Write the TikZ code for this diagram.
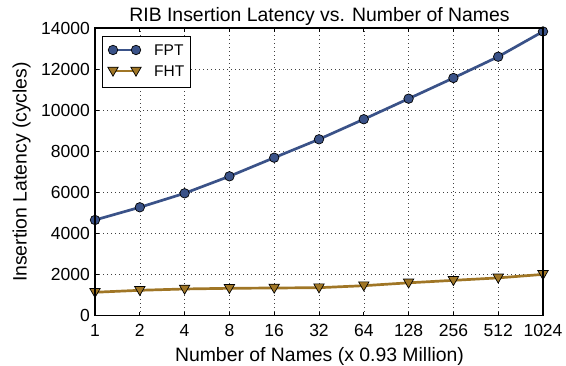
\documentclass[tikz,border=0pt]{standalone}
\usepackage{fontspec}
\setmainfont{Liberation Sans}
\usetikzlibrary{shapes.geometric}
\definecolor{fptc}{RGB}{58,82,136}
\definecolor{fhtc}{RGB}{160,118,38}
\tikzset{
  gridline/.style={black!75, line width=0.6pt, dash pattern=on 1pt off 3pt},
  tickmark/.style={black, line width=0.8pt},
  frame/.style={black, line width=1.1pt},
  fptline/.style={fptc, line width=2.7pt, line join=round},
  fhtline/.style={fhtc, line width=2.7pt, line join=round},
  fptmark/.style={circle, draw=black, fill=fptc, line width=0.7pt, minimum size=9.5pt, inner sep=0pt},
  fhtmark/.style={regular polygon, regular polygon sides=3, shape border rotate=180, draw=black, fill=fhtc, line width=0.7pt, minimum size=12pt, inner sep=0pt},
  ticklabel/.style={font=\fontsize{17.5}{20}\selectfont, inner sep=0pt},
  axlabel/.style={font=\fontsize{19.4}{22}\selectfont, inner sep=0pt},
  legtext/.style={font=\fontsize{15.5}{18}\selectfont, inner sep=0pt, anchor=west},
}
\begin{document}
\begin{tikzpicture}[x=1pt,y=1pt]
\useasboundingbox (0,0) rectangle (566,366);
% title
\node[axlabel, anchor=base] (title) at (319.5,344.5) {RIB Insertion Latency vs. Number of Names};
\begin{scope}[shift={(95,50.3)}, x=44.8pt, y=20.55pt]
  % grid
  \foreach \i in {1,...,9} \draw[gridline] (\i,0) -- (\i,14);
  \foreach \j in {2,4,...,12} \draw[gridline] (0,\j) -- (10,\j);
  % ticks
  \foreach \i in {0,...,10} {
    \draw[tickmark] (\i,0) -- ++(0,4pt);
    \draw[tickmark] (\i,14) -- ++(0,-4pt);
  }
  \foreach \j in {0,2,...,14} {
    \draw[tickmark] (0,\j) -- ++(4pt,0);
    \draw[tickmark] (10,\j) -- ++(-4pt,0);
  }
  % tick labels
  \foreach \i/\l in {0/1,1/2,2/4,3/8,4/16,5/32,6/64,7/128,8/256,9/512,10/1024}
    \node[ticklabel, anchor=base] (xl\i) at ([yshift=-20.5pt]\i,0) {\l};
  \foreach \j/\l in {0/0,2/2000,4/4000,6/6000,8/8000,10/10000,12/12000,14/14000}
    \node[ticklabel, anchor=east] (yl\j) at ([xshift=-5pt]0,\j) {\l};
  % data
  \foreach \i/\v in {0/4.657,1/5.275,2/5.956,3/6.783,4/7.689,5/8.584,6/9.56,7/10.56,8/11.567,9/12.603,10/13.83}
    \coordinate (p\i) at (\i,\v);
  \foreach \i/\v in {0/1.14,1/1.236,2/1.30,3/1.333,4/1.348,5/1.363,6/1.46,7/1.6,8/1.72,9/1.84,10/2.01}
    \coordinate (h\i) at (\i,\v);
  \draw[fptline] (p0) \foreach \i in {1,...,10} {-- (p\i)};
  \draw[fhtline] (h0) \foreach \i in {1,...,10} {-- (h\i)};
  \begin{scope}
    \clip (-0.2,-0.5) rectangle (10.2,14.5);
    \foreach \i in {0,...,10} \node[fptmark] (mp\i) at (p\i) {};
    \foreach \i in {0,...,10} \node[fhtmark] (mh\i) at ([yshift=0.8pt]h\i) {};
  \end{scope}
  % frame
  \draw[frame] (0,0) rectangle (10,14);
\end{scope}
% axis labels
\node[axlabel, anchor=base] (xlabel) at (319.5,4.3) {Number of Names (x 0.93 Million)};
\node[axlabel, anchor=base, rotate=90] (ylabel) at (26.5,194) {Insertion Latency (cycles)};
% legend
\node[draw=black, line width=0.9pt, fill=white, minimum width=88.3pt, minimum height=51.3pt, anchor=north west, inner sep=0pt] (legbox) at (101.7,330) {};
\coordinate (la1) at (113,316);
\coordinate (lb1) at (136,316);
\coordinate (la2) at (113,295);
\coordinate (lb2) at (136,295);
\draw[fptline] (la1) -- (lb1);
\draw[fhtline] (la2) -- (lb2);
\node[fptmark] (lm1) at (la1) {};
\node[fptmark] (lm2) at (lb1) {};
\node[fhtmark] (lm3) at ([yshift=0.8pt]la2) {};
\node[fhtmark] (lm4) at ([yshift=0.8pt]lb2) {};
\node[legtext] (t1) at (154,316) {FPT};
\node[legtext] (t2) at (154,295) {FHT};
\end{tikzpicture}
\end{document}
